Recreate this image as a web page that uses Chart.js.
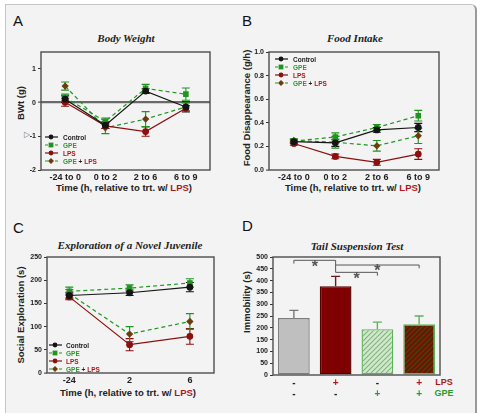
<!DOCTYPE html>
<html><head><meta charset="utf-8">
<script src="https://cdn.jsdelivr.net/npm/chart.js@4.4.1/dist/chart.umd.min.js"></script>
<style>
html,body{margin:0;padding:0;background:#fff;width:483px;height:413px;overflow:hidden;font-family:"Liberation Sans",Arial,sans-serif;}
#frame{position:absolute;left:5px;top:4px;width:472px;height:440px;background:#f3f3f3;border:1px solid #c4c4c4;border-right:2px solid #9a9a9a;border-radius:0 6px 0 0;box-sizing:border-box;}
canvas{position:absolute;}
.t{position:absolute;white-space:nowrap;line-height:1;}
.letter{font-size:15px;color:#111;line-height:15px;}
.title{font-family:"Liberation Serif","Times New Roman",serif;font-weight:bold;font-style:italic;font-size:11px;color:#222;transform:translate(-50%,-50%);}
.xt{font-weight:bold;font-size:9.5px;color:#222;transform:translate(-50%,-50%);}
.yt{font-weight:bold;font-size:9.5px;color:#222;transform:translate(-50%,-50%) rotate(-90deg);}
.lr{position:absolute;font-weight:bold;font-size:6.5px;height:8px;display:flex;align-items:center;white-space:nowrap;}
.red{color:#b01818}.grn{color:#2a9a2a}
</style></head>
<body>
<div id="frame"></div>

<div class="t letter" style="left:13px;top:13px">A</div>
<div class="t letter" style="left:242px;top:13px">B</div>
<div class="t letter" style="left:13px;top:220px">C</div>
<div class="t letter" style="left:242px;top:218px">D</div>

<div class="t title" style="left:126px;top:38px">Body Weight</div>
<div class="t title" style="left:355px;top:38px">Food Intake</div>
<div class="t title" style="left:130px;top:245px">Exploration of a Novel Juvenile</div>
<div class="t title" style="left:357px;top:246px">Tail Suspension Test</div>

<div class="t yt" style="left:21px;top:103px">BWt (g)</div>
<div class="t yt" style="left:247px;top:108px">Food Disappearance (g/h)</div>
<div class="t yt" style="left:21px;top:315px">Social Exploration (s)</div>
<div class="t yt" style="left:247px;top:302px">Immobility (s)</div>

<div class="t xt" style="left:124px;top:188px">Time (h, relative to trt. w/ <span class="red">LPS</span>)</div>
<div class="t xt" style="left:353px;top:188px">Time (h, relative to trt. w/ <span class="red">LPS</span>)</div>
<div class="t xt" style="left:128px;top:393px">Time (h, relative to trt. w/ <span class="red">LPS</span>)</div>

<div class="t" style="left:24px;top:131px;font-size:8px;color:#777">▷</div>

<div class="t xt red" style="left:444px;top:382px;font-size:9px">LPS</div>
<div class="t xt grn" style="left:444px;top:393px;font-size:9px">GPE</div>

<canvas id="cA"></canvas>
<canvas id="cB"></canvas>
<canvas id="cC"></canvas>
<canvas id="cD"></canvas>

<script>
// ---------------- DATA ----------------
const groupNames = ['Control', 'GPE', 'LPS', 'GPE + LPS'];

// Panel A: Body weight change (g)
const timeCatsAB = ['-24 to 0', '0 to 2', '2 to 6', '6 to 9'];
const bwControl    = [0.10, -0.67, 0.34, -0.13];
const bwControlErr = [0.10, 0.10, 0.07, 0.15];
const bwGPE        = [0.15, -0.56, 0.42, 0.25];
const bwGPEErr     = [0.10, 0.10, 0.12, 0.18];
const bwLPS        = [0.01, -0.69, -0.86, -0.17];
const bwLPSErr     = [0.12, 0.08, 0.14, 0.08];
const bwGPELPS     = [0.49, -0.75, -0.49, -0.13];
const bwGPELPSErr  = [0.12, 0.17, 0.22, 0.12];

// Panel B: Food disappearance (g/h)
const fiControl    = [0.24, 0.23, 0.34, 0.36];
const fiControlErr = [0.015, 0.03, 0.02, 0.035];
const fiGPE        = [0.245, 0.28, 0.36, 0.46];
const fiGPEErr     = [0.015, 0.035, 0.025, 0.045];
const fiLPS        = [0.225, 0.115, 0.065, 0.135];
const fiLPSErr     = [0.015, 0.02, 0.025, 0.045];
const fiGPELPS     = [0.25, 0.235, 0.205, 0.29];
const fiGPELPSErr  = [0.015, 0.05, 0.045, 0.065];

// Panel C: Social exploration (s)
const timeCatsC = ['-24', '2', '6'];
const seControl    = [167, 173, 185];
const seControlErr = [7, 6, 10];
const seGPE        = [176, 183, 194];
const seGPEErr     = [9, 7, 9];
const seLPS        = [164, 61, 79];
const seLPSErr     = [6, 13, 17];
const seGPELPS     = [171, 84, 111];
const seGPELPSErr  = [9, 16, 17];

// Panel D: Tail suspension, immobility (s)
const tstGroups = ['Control', 'LPS', 'GPE', 'GPE + LPS'];
const lpsRow = ['-', '+', '-', '+'];
const gpeRow = ['-', '-', '+', '+'];
const immobility    = [241, 376, 194, 215];
const immobilityErr = [33, 42, 30, 35];
// significance brackets: [from group, to group]
const sigPairs = [[0, 1], [1, 3], [1, 2]];
const sigLabels = ['*', '*', '*'];

// ---------------- STYLES ----------------
const C = {black:'#141414', green:'#1f951f', red:'#8c0f0f', brown:'#6a3d0c', redT:'#b01818', grnT:'#2a9a2a', txt:'#222'};
const groupStyle = [
  {line:C.black, dash:[],    marker:'circle',  mc:C.black, err:C.black},
  {line:C.green, dash:[4,3], marker:'rect',    mc:C.green, err:C.green},
  {line:C.red,   dash:[],    marker:'circle',  mc:C.red,   err:C.red},
  {line:C.green, dash:[4,3], marker:'rectRot', mc:C.brown, err:C.green}
];
const FONT = '"Liberation Sans", Arial, sans-serif';
const PAD_T = 8, PAD_R = 6;

// ---------------- PLUGINS ----------------
function drawErr(chart, phase){
  const ctx = chart.ctx;
  chart.data.datasets.forEach((ds, i) => {
    if (!ds.errors || (ds.errPhase || 'before') !== phase) return;
    const meta = chart.getDatasetMeta(i);
    const ys = chart.scales[meta.yAxisID];
    meta.data.forEach((el, j) => {
      const d = ds.data[j];
      const v = (typeof d === 'object') ? d.y : d;
      const e = ds.errors[j];
      const yt = ys.getPixelForValue(v + e);
      const yb = ds.errUpOnly ? ys.getPixelForValue(v) : ys.getPixelForValue(v - e);
      const col = Array.isArray(ds.errColor) ? ds.errColor[j] : ds.errColor;
      const cw = ds.capW || 4;
      ctx.save();
      ctx.strokeStyle = col; ctx.lineWidth = ds.errWidth || 1.2;
      ctx.beginPath();
      ctx.moveTo(el.x, yt); ctx.lineTo(el.x, yb);
      ctx.moveTo(el.x - cw, yt); ctx.lineTo(el.x + cw, yt);
      if (!ds.errUpOnly) { ctx.moveTo(el.x - cw, yb); ctx.lineTo(el.x + cw, yb); }
      ctx.stroke();
      ctx.restore();
    });
  });
}
const errorBars = {
  id:'errorBars',
  beforeDatasetsDraw(chart){ drawErr(chart, 'before'); },
  afterDatasetsDraw(chart){ drawErr(chart, 'after'); }
};
const boxPlugin = {
  id:'box',
  afterDraw(chart){
    const a = chart.chartArea, c = chart.ctx;
    c.save(); c.strokeStyle = '#4d4d4d'; c.lineWidth = 1.4;
    c.strokeRect(a.left, a.top, a.right - a.left, a.bottom - a.top);
    c.restore();
  }
};
const bracketPlugin = {
  id:'brackets',
  afterDatasetsDraw(chart, args, opts){
    if (!opts || !opts.items) return;
    const c = chart.ctx, xs = chart.scales.x, ys = chart.scales.y;
    c.save();
    opts.items.forEach(it => {
      const xa = xs.getPixelForValue(it.pair[0]), xb = xs.getPixelForValue(it.pair[1]);
      const yl = ys.getPixelForValue(it.level);
      c.strokeStyle = '#555'; c.lineWidth = 1;
      c.beginPath();
      c.moveTo(xa, ys.getPixelForValue(it.endA)); c.lineTo(xa, yl);
      c.lineTo(xb, yl); c.lineTo(xb, ys.getPixelForValue(it.endB));
      c.stroke();
      c.fillStyle = '#555'; c.font = 'bold 16px ' + FONT;
      c.textAlign = 'center'; c.textBaseline = 'top';
      c.fillText(it.label, (xa + xb) / 2, yl - 1);
    });
    c.restore();
  }
};

// ---------------- HELPERS ----------------
function placeCanvas(id, plot, canvasLeft, xAxisH){
  const c = document.getElementById(id);
  const top = plot.t - PAD_T;
  c.width = plot.r + PAD_R - canvasLeft;
  c.height = plot.b + xAxisH - top;
  c.style.left = canvasLeft + 'px';
  c.style.top = top + 'px';
  return {c, yW: plot.l - canvasLeft};
}

function lineChart(id, plot, canvasLeft, cats, series, errs, y, xr, zeroLine){
  const {c, yW} = placeCanvas(id, plot, canvasLeft, 30);
  const datasets = series.map((vals, g) => ({
    label: groupNames[g],
    data: vals.map((v, i) => ({x:i, y:v})),
    errors: errs[g], errColor: groupStyle[g].err, capW: 4, errWidth: 1.1,
    borderColor: groupStyle[g].line, borderDash: groupStyle[g].dash, borderWidth: 1.2,
    pointStyle: groupStyle[g].marker,
    pointRadius: groupStyle[g].marker === 'rect' ? 3.1 : 2.8,
    pointBackgroundColor: groupStyle[g].mc, pointBorderColor: groupStyle[g].mc,
    tension: 0, fill: false
  }));
  return new Chart(c, {
    type:'line',
    data:{datasets},
    plugins:[errorBars, boxPlugin],
    options:{
      responsive:false, animation:false, devicePixelRatio:1,
      layout:{padding:{top:PAD_T, right:PAD_R, left:0, bottom:0}},
      plugins:{legend:{display:false}, tooltip:{enabled:false}},
      scales:{
        x:{type:'linear', min:xr[0], max:xr[1],
           grid:{display:false, drawTicks:false}, border:{display:false},
           afterBuildTicks: s => { s.ticks = cats.map((_, i) => ({value:i})); },
           afterFit: s => { s.height = 30; },
           ticks:{callback: v => cats[v], autoSkip:false, maxRotation:0, padding:2,
                  color:C.txt, font:{family:FONT, size:9, weight:'bold'}}},
        y:{min:y.min, max:y.max,
           afterFit: s => { s.width = yW; },
           border:{display:false},
           grid:{drawOnChartArea: !!zeroLine, tickLength:3, tickColor:'#333', tickWidth:1,
                 color: ctx => (zeroLine && ctx.tick && ctx.tick.value === 0) ? '#6a6a6a' : 'rgba(0,0,0,0)',
                 lineWidth: ctx => (ctx.tick && ctx.tick.value === 0) ? 2.2 : 1},
           ticks:{stepSize:y.step, includeBounds:false, padding:2, color:C.txt,
                  callback: v => y.fmt ? y.fmt(v) : v,
                  font:{family:FONT, size:7, weight:'bold'}}}
      }
    }
  });
}

function legend(x, yFirst, textX){
  groupNames.forEach((name, g) => {
    const st = groupStyle[g];
    const row = document.createElement('div');
    row.className = 'lr';
    row.style.left = x + 'px';
    row.style.top = (yFirst + g * 8 - 4) + 'px';
    let mk;
    if (st.marker === 'circle') mk = `<circle cx="6" cy="4" r="2.4" fill="${st.mc}"/>`;
    else if (st.marker === 'rect') mk = `<rect x="3.6" y="1.6" width="4.8" height="4.8" fill="${st.mc}"/>`;
    else mk = `<polygon points="6,1 9,4 6,7 3,4" fill="${st.mc}"/>`;
    const dash = st.dash.length ? 'stroke-dasharray="3,2"' : '';
    const svg = `<svg width="13" height="8" style="margin-right:${textX - x - 13}px;flex:none"><line x1="0" y1="4" x2="13" y2="4" stroke="${st.line}" stroke-width="1.2" ${dash}/>${mk}</svg>`;
    let txt;
    if (name === 'Control') txt = `<span style="color:#222">Control</span>`;
    else if (name === 'GPE') txt = `<span class="grn">GPE</span>`;
    else if (name === 'LPS') txt = `<span class="red">LPS</span>`;
    else txt = `<span class="grn">GPE</span><span style="color:#222">&nbsp;+&nbsp;</span><span class="red">LPS</span>`;
    row.innerHTML = svg + txt;
    document.body.appendChild(row);
  });
}

// ---------------- CHARTS ----------------
lineChart('cA', {l:41, t:52, r:210, b:170}, 11, timeCatsAB,
  [bwControl, bwGPE, bwLPS, bwGPELPS],
  [bwControlErr, bwGPEErr, bwLPSErr, bwGPELPSErr],
  {min:-2, max:1.5, step:1}, [-0.6, 3.6], true);

lineChart('cB', {l:269, t:52, r:439, b:170}, 237, timeCatsAB,
  [fiControl, fiGPE, fiLPS, fiGPELPS],
  [fiControlErr, fiGPEErr, fiLPSErr, fiGPELPSErr],
  {min:0, max:1.0, step:0.2, fmt: v => v.toFixed(1)}, [-0.6, 3.5], false);

lineChart('cC', {l:47, t:257, r:214, b:373}, 11, timeCatsC,
  [seControl, seGPE, seLPS, seGPELPS],
  [seControlErr, seGPEErr, seLPSErr, seGPELPSErr],
  {min:0, max:250, step:50}, [-0.37, 2.4], false);

legend(45, 137, 63);
legend(275, 59, 293);
legend(49, 345, 66);

// Panel D patterns
function stripes(base, line){
  const p = document.createElement('canvas');
  p.width = 5; p.height = 5;
  const g = p.getContext('2d');
  g.fillStyle = base; g.fillRect(0, 0, 5, 5);
  g.strokeStyle = line; g.lineWidth = 1.1;
  g.beginPath();
  g.moveTo(-1, 6); g.lineTo(6, -1);
  g.moveTo(-1, 1); g.lineTo(1, -1);
  g.moveTo(4, 6); g.lineTo(6, 4);
  g.stroke();
  return g.createPattern(p, 'repeat');
}

(function(){
  const plot = {l:273, t:257, r:440, b:375};
  const {c, yW} = placeCanvas('cD', plot, 240, 22);
  new Chart(c, {
    type:'bar',
    data:{labels: tstGroups, datasets:[{
      data: immobility,
      errors: immobilityErr, errUpOnly:true, errPhase:'after', capW:4.5, errWidth:1.4,
      errColor:['#777777', '#6a1a1a', '#5cb35c', '#5cb35c'],
      backgroundColor:['#bfbfbf', '#7e0000', stripes('#d3e6cf', '#7cb874'), stripes('#701400', '#3f4a12')],
      borderColor:['#7d7d7d', '#560000', '#5cb35c', '#5cb35c'],
      borderWidth:1.4, borderSkipped:false,
      barPercentage:0.76, categoryPercentage:1.0
    }]},
    plugins:[errorBars, boxPlugin, bracketPlugin],
    options:{
      responsive:false, animation:false, devicePixelRatio:1,
      layout:{padding:{top:PAD_T, right:PAD_R, left:0, bottom:0}},
      plugins:{legend:{display:false}, tooltip:{enabled:false},
        brackets:{items:[
          {pair:sigPairs[0], level:486, endA:472, endB:486, label:sigLabels[0]},
          {pair:sigPairs[1], level:466, endA:486, endB:452, label:sigLabels[1]},
          {pair:sigPairs[2], level:435, endA:466, endB:421, label:sigLabels[2]}
        ]}},
      scales:{
        x:{type:'category', offset:true, weight:0,
           grid:{display:false, drawTicks:false}, border:{display:false},
           afterFit: s => { s.height = 11; },
           ticks:{callback:(v, i) => lpsRow[i], padding:2, autoSkip:false, maxRotation:0,
                  color: cx => lpsRow[cx.index] === '+' ? C.redT : C.txt,
                  font:{family:FONT, size:10, weight:'bold'}}},
        x2:{type:'category', position:'bottom', offset:true, weight:1, labels: tstGroups,
           grid:{display:false, drawTicks:false}, border:{display:false},
           afterFit: s => { s.height = 11; },
           ticks:{callback:(v, i) => gpeRow[i], padding:2, autoSkip:false, maxRotation:0,
                  color: cx => gpeRow[cx.index] === '+' ? C.grnT : C.txt,
                  font:{family:FONT, size:10, weight:'bold'}}},
        y:{min:0, max:500,
           afterFit: s => { s.width = yW; },
           border:{display:false},
           grid:{drawOnChartArea:false, tickLength:3, tickColor:'#333'},
           ticks:{stepSize:50, padding:2, color:C.txt,
                  font:{family:FONT, size:7, weight:'bold'}}}
      }
    }
  });
})();
</script>
</body></html>
